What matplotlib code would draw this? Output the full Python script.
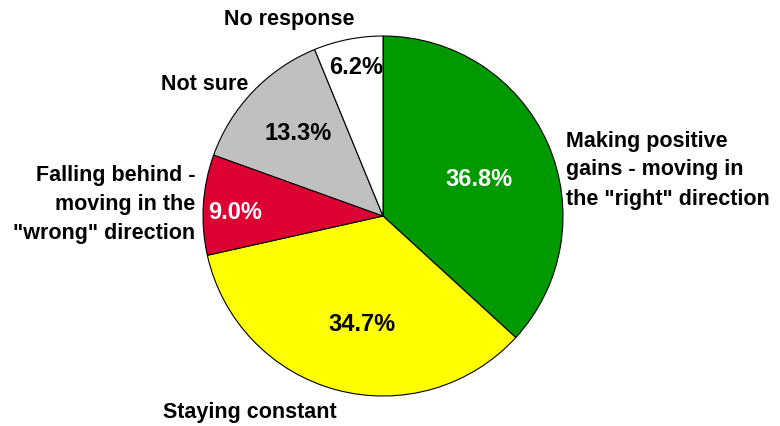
import matplotlib.pyplot as plt

# survey answers, clockwise from 12 o'clock
categories = ['Making positive\ngains - moving in\nthe "right" direction',
              'Staying constant',
              'Falling behind -\nmoving in the\n"wrong" direction',
              'Not sure',
              'No response']
shares = [36.8, 34.7, 9.0, 13.3, 6.2]
colors = ['#009900', '#ffff00', '#dd0033', '#c0c0c0', '#ffffff']
pct_colors = ['white', 'black', 'white', 'black', 'black']

# label placement in pixel space (figure is 780x427)
pct_pos = [(479, 247), (362, 102), (235, 214), (298, 294), (356, 359)]
cat_pos = [(566, 257, 'left'), (163, 14, 'left'), (195, 222, 'right'),
           (248, 343, 'right'), (289, 407, 'center')]

plt.rcParams['font.family'] = ['Liberation Sans', 'DejaVu Sans']

fig = plt.figure(figsize=(7.8, 4.27), dpi=100)
ax = fig.add_axes([0, 0, 1, 1])

ax.pie(shares, colors=colors, startangle=90, counterclock=False,
       center=(383, 210), radius=180, frame=False,
       wedgeprops=dict(edgecolor='black', linewidth=0.8))

# pie() resets the limits, so fix them afterwards
ax.set_xlim(0, 780)
ax.set_ylim(0, 427)
ax.set_aspect('equal')
ax.axis('off')

for val, (x, y), c in zip(shares, pct_pos, pct_colors):
    ax.text(x, y, '{:.1f}%'.format(val), color=c, fontsize=17,
            fontweight='bold', ha='center', va='center')

for name, (x, y, ha) in zip(categories, cat_pos):
    ax.text(x, y, name, fontsize=15.5, fontweight='bold', ha=ha, va='center',
            linespacing=1.5, multialignment=ha)

fig.savefig('out.png', dpi=100)
